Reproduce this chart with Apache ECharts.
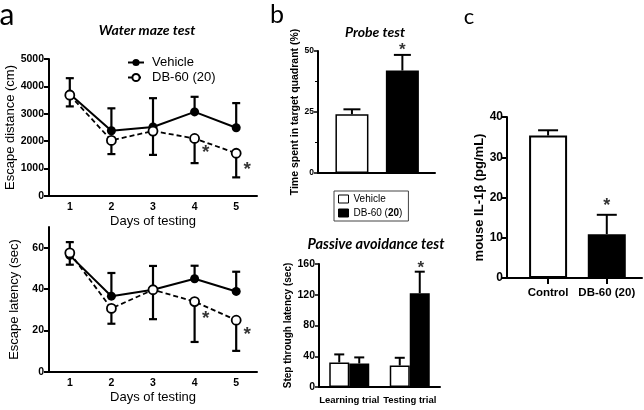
<!DOCTYPE html>
<html>
<head>
<meta charset="utf-8">
<script src="https://cdn.jsdelivr.net/npm/echarts@6/dist/echarts.min.js"></script>
<style>
  html, body { margin: 0; padding: 0; background: #fff; }
  #chart { width: 644px; height: 410px; }
</style>
</head>
<body>
<div id="chart"></div>
<script>
  // a: water maze, means + one sided error ends (vehicle up, DB-60 down)
  var days = ['1', '2', '3', '4', '5'];
  var distVehicle = [3720, 2380, 2520, 3070, 2490];
  var distVehicleErr = [4300, 3200, 3570, 3620, 3390];
  var distDB = [3680, 2030, 2370, 2100, 1560];
  var distDBErr = [3270, 1530, 1500, 1200, 680];
  var distStars = [[3, 1720], [4, 1100]];

  var latVehicle = [56.3, 36.6, 39.7, 45, 38.9];
  var latVehicleErr = [62.7, 47.8, 51.2, 51.3, 48.4];
  var latDB = [57.5, 30.7, 39.7, 34, 25];
  var latDBErr = [51.8, 23.3, 25.5, 14.5, 10.2];
  var latStars = [[3, 27.6], [4, 19.9]];

  // b: probe test (bar x positions on a plain value axis)
  var probeX = [0.673, 1.673];
  var probe = [24.1, 42];
  var probeErr = [26.1, 48.4];
  var probeStars = [[1.673, 52]];

  // b: passive avoidance
  var trials = ['Learning trial', 'Testing trial'];
  var pasVehicle = [32, 28];
  var pasVehicleErr = [42.4, 38];
  var pasDB = [30.6, 122];
  var pasDBErr = [38.5, 150];
  var pasStars = [[1, 159.3]];

  // c: IL-1
  var groupsC = ['Control', 'DB-60 (20)'];
  var il1X = [0.7, 1.7];
  var il1 = [35.4, 10.9];
  var il1Err = [36.7, 15.7];
  var il1Stars = [[1.7, 18.9]];

  var ARIAL = 'Arial, "Liberation Sans", sans-serif';
  var CAL = 'Lato, sans-serif';

  function errorBars(axis, data, capHalf, width, shift) {
    return {
      type: 'custom',
      xAxisIndex: axis, yAxisIndex: axis,
      z: 3, silent: true,
      data: data,
      renderItem: function (params, api) {
        var x = api.value(0);
        var p0 = api.coord([x, api.value(1)]);
        var p1 = api.coord([x, api.value(2)]);
        var cx = p0[0] + (shift || 0);
        var st = {stroke: '#000', lineWidth: width};
        return {
          type: 'group',
          children: [
            {type: 'line', shape: {x1: cx, y1: p0[1], x2: cx, y2: p1[1]}, style: st},
            {type: 'line', shape: {x1: cx - capHalf, y1: p1[1], x2: cx + capHalf, y2: p1[1]}, style: st}
          ]
        };
      }
    };
  }

  function stars(axis, data, size, offset) {
    return {
      type: 'scatter', xAxisIndex: axis, yAxisIndex: axis,
      data: data, symbolSize: 0, clip: false, silent: true, z: 5,
      label: {
        show: true, formatter: '*', position: 'inside', offset: offset,
        fontFamily: ARIAL, fontSize: size, fontWeight: 'bold', color: '#000'
      }
    };
  }

  function pairs(xs, a, b) {
    return xs.map(function (x, i) { return [x, a[i], b[i]]; });
  }
  var idx5 = [0, 1, 2, 3, 4];
  var idx2 = [0, 1];
  var plain = function (v) { return String(v); };

  var axisLine = {show: true, lineStyle: {color: '#000', width: 2}};
  var tickLabel = {color: '#000', fontFamily: ARIAL, fontWeight: 'bold'};

  function dayAxis(i) {
    return {
      gridIndex: i, type: 'category', data: days, boundaryGap: true,
      name: 'Days of testing', nameLocation: 'middle', nameGap: 19,
      nameTextStyle: {fontFamily: ARIAL, fontSize: 13, color: '#000'},
      axisLine: axisLine,
      axisTick: {alignWithLabel: true, length: 5, lineStyle: {color: '#000', width: 2}},
      axisLabel: Object.assign({fontSize: 10.5, margin: 6}, tickLabel)
    };
  }

  var chart = echarts.init(document.getElementById('chart'));
  chart.setOption({
    animation: false,
    backgroundColor: '#fff',
    textStyle: {fontFamily: ARIAL},
    grid: [
      {left: 49, top: 59, width: 208, height: 137},
      {left: 49, top: 227, width: 208, height: 145},
      {left: 318, top: 51, width: 117, height: 122},
      {left: 319, top: 264, width: 121, height: 123},
      {left: 507, top: 117, width: 135, height: 161}
    ],
    xAxis: [
      dayAxis(0),
      dayAxis(1),
      {gridIndex: 2, type: 'value', min: 0, max: 2.32, axisLine: axisLine,
       axisTick: {show: false}, axisLabel: {show: false}, splitLine: {show: false}},
      {gridIndex: 3, type: 'category', data: trials, boundaryGap: true, axisLine: axisLine,
       axisTick: {alignWithLabel: true, length: 4, lineStyle: {color: '#000', width: 1.5}},
       axisLabel: Object.assign({fontSize: 9.5, margin: 8, interval: 0}, tickLabel)},
      {gridIndex: 4, type: 'value', min: 0, max: 2.3, axisLine: axisLine, splitLine: {show: false},
       axisTick: {customValues: il1X, length: 6, lineStyle: {color: '#000', width: 2}},
       axisLabel: Object.assign({customValues: il1X, fontSize: 11.5, margin: 9,
         formatter: function (v) { return groupsC[il1X.indexOf(v)]; }}, tickLabel)}
    ],
    yAxis: [
      {gridIndex: 0, type: 'value', min: 0, max: 5000, interval: 1000,
       name: 'Escape distance (cm)', nameLocation: 'middle', nameGap: 28,
       nameTextStyle: {fontFamily: ARIAL, fontSize: 13, color: '#000'},
       axisLine: axisLine, splitLine: {show: false},
       axisTick: {show: true, length: 5, lineStyle: {color: '#000', width: 2}},
       axisLabel: Object.assign({fontSize: 10.5, margin: 5, formatter: plain}, tickLabel)},
      {gridIndex: 1, type: 'value', min: 0, max: 70,
       name: 'Escape latency (sec)', nameLocation: 'middle', nameGap: 28,
       nameTextStyle: {fontFamily: ARIAL, fontSize: 13, color: '#000'},
       axisLine: axisLine, splitLine: {show: false},
       axisTick: {show: true, customValues: [0, 20, 40, 60], length: 5, lineStyle: {color: '#000', width: 2}},
       axisLabel: Object.assign({customValues: [0, 20, 40, 60], fontSize: 10.5, margin: 5}, tickLabel)},
      {gridIndex: 2, type: 'value', min: 0, max: 50, interval: 25,
       name: 'Time spent in target quadrant (%)', nameLocation: 'middle', nameGap: 15,
       nameTextStyle: {fontFamily: ARIAL, fontSize: 10.5, fontWeight: 'bold', color: '#000'},
       axisLine: axisLine, splitLine: {show: false},
       axisTick: {show: true, length: 4, lineStyle: {color: '#000', width: 1.5}},
       minorTick: {show: true, splitNumber: 2, length: 3, lineStyle: {color: '#000', width: 1}},
       axisLabel: Object.assign({fontSize: 8.5, margin: 4}, tickLabel)},
      {gridIndex: 3, type: 'value', min: 0, max: 160, interval: 40,
       name: 'Step through latency (sec)', nameLocation: 'middle', nameGap: 25,
       nameTextStyle: {fontFamily: ARIAL, fontSize: 10, fontWeight: 'bold', color: '#000'},
       axisLine: axisLine, splitLine: {show: false},
       axisTick: {show: true, length: 4, lineStyle: {color: '#000', width: 1.5}},
       axisLabel: Object.assign({fontSize: 10.5, margin: 4}, tickLabel)},
      {gridIndex: 4, type: 'value', min: 0, max: 40, interval: 10,
       name: 'mouse IL-1β (pg/mL)', nameLocation: 'middle', nameGap: 21,
       nameTextStyle: {fontFamily: ARIAL, fontSize: 13, fontWeight: 'bold', color: '#000'},
       axisLine: axisLine, splitLine: {show: false},
       axisTick: {show: true, length: 6, lineStyle: {color: '#000', width: 2}},
       axisLabel: Object.assign({fontSize: 12, margin: 4}, tickLabel)}
    ],
    legend: [
      {
        left: 122, top: 51, orient: 'vertical', itemGap: 2,
        itemWidth: 16, itemHeight: 9,
        data: ['Vehicle', 'DB-60 (20)'],
        textStyle: {fontFamily: ARIAL, fontSize: 13, lineHeight: 13, color: '#000', padding: [0, 0, 0, 3]}
      },
      {
        left: 334, top: 191, orient: 'vertical', itemGap: 3,
        itemWidth: 10, itemHeight: 8, padding: [2.5, 6, 2.5, 4],
        borderColor: '#444', borderWidth: 1,
        data: [
          {name: 'Vehicle', icon: 'rect', itemStyle: {color: '#fff', borderColor: '#000', borderWidth: 1}},
          {name: 'DB-60 (20)', icon: 'rect', itemStyle: {color: '#000', borderColor: '#000', borderWidth: 1}}
        ],
        formatter: function (n) { return n === 'DB-60 (20)' ? 'DB-60 ({b|20})' : n; },
        textStyle: {fontFamily: ARIAL, fontSize: 10, lineHeight: 11, color: '#000',
          rich: {b: {fontFamily: ARIAL, fontSize: 10, fontWeight: 'bold', color: '#000'}}}
      }
    ],
    graphic: [
      {type: 'text', x: 7, y: 15, style: {text: 'a', fontFamily: CAL, fontSize: 30, fill: '#000', align: 'center', verticalAlign: 'middle'}},
      {type: 'text', x: 277, y: 15, style: {text: 'b', fontFamily: CAL, fontSize: 25, fill: '#000', align: 'center', verticalAlign: 'middle'}},
      {type: 'text', x: 469, y: 17, style: {text: 'c', fontFamily: CAL, fontSize: 22, fill: '#000', align: 'center', verticalAlign: 'middle'}},
      {type: 'text', x: 147, y: 30, style: {text: 'Water maze test', fontFamily: CAL, fontSize: 14, fontWeight: 'bold', fontStyle: 'italic', fill: '#000', align: 'center', verticalAlign: 'middle'}},
      {type: 'text', x: 375, y: 32, style: {text: 'Probe test', fontFamily: CAL, fontSize: 14, fontWeight: 'bold', fontStyle: 'italic', fill: '#000', align: 'center', verticalAlign: 'middle'}},
      {type: 'text', x: 376, y: 244, style: {text: 'Passive avoidance test', fontFamily: CAL, fontSize: 14.5, fontWeight: 'bold', fontStyle: 'italic', fill: '#000', align: 'center', verticalAlign: 'middle'}}
    ],
    series: [
      // a top
      {name: 'Vehicle', type: 'line', xAxisIndex: 0, yAxisIndex: 0, data: distVehicle, z: 4,
       symbol: 'circle', symbolSize: 9, itemStyle: {color: '#000'},
       lineStyle: {color: '#000', width: 2}},
      {name: 'DB-60 (20)', type: 'line', xAxisIndex: 0, yAxisIndex: 0, data: distDB, z: 4,
       symbol: 'circle', symbolSize: 9, itemStyle: {color: '#fff', borderColor: '#000', borderWidth: 1.8},
       lineStyle: {color: '#000', width: 1.8, type: [5, 3]}},
      errorBars(0, pairs(idx5, distVehicle, distVehicleErr), 4, 2.2),
      errorBars(0, pairs(idx5, distDB, distDBErr), 4, 2.2),
      stars(0, distStars, 19, [11, 4]),
      // a bottom
      {name: 'Vehicle', type: 'line', xAxisIndex: 1, yAxisIndex: 1, data: latVehicle, z: 4,
       symbol: 'circle', symbolSize: 9, itemStyle: {color: '#000'},
       lineStyle: {color: '#000', width: 2}},
      {name: 'DB-60 (20)', type: 'line', xAxisIndex: 1, yAxisIndex: 1, data: latDB, z: 4,
       symbol: 'circle', symbolSize: 9, itemStyle: {color: '#fff', borderColor: '#000', borderWidth: 1.8},
       lineStyle: {color: '#000', width: 1.8, type: [5, 3]}},
      errorBars(1, pairs(idx5, latVehicle, latVehicleErr), 4, 2.2),
      errorBars(1, pairs(idx5, latDB, latDBErr), 4, 2.2),
      stars(1, latStars, 19, [11, 4]),
      // b probe
      {type: 'bar', xAxisIndex: 2, yAxisIndex: 2, barWidth: 33,
       data: [[probeX[0], probe[0]]],
       itemStyle: {color: '#fff', borderColor: '#000', borderWidth: 1.5}},
      {type: 'bar', xAxisIndex: 2, yAxisIndex: 2, barWidth: 33, barGap: '-100%',
       data: [[probeX[1], probe[1]]],
       itemStyle: {color: '#000', borderColor: '#000', borderWidth: 1.5}},
      errorBars(2, pairs(probeX, probe, probeErr), 8.5, 2),
      stars(2, probeStars, 17, [0, 4]),
      // b passive avoidance
      {type: 'bar', xAxisIndex: 3, yAxisIndex: 3, barWidth: 20, barGap: '0%', data: pasVehicle,
       itemStyle: {color: '#fff', borderColor: '#000', borderWidth: 1.5}},
      {type: 'bar', xAxisIndex: 3, yAxisIndex: 3, barWidth: 20, barGap: '0%', data: pasDB,
       itemStyle: {color: '#000', borderColor: '#000', borderWidth: 1.5}},
      errorBars(3, pairs(idx2, pasVehicle, pasVehicleErr), 5, 2, -10),
      errorBars(3, pairs(idx2, pasDB, pasDBErr), 5, 2, 10),
      stars(3, pasStars, 17, [11, 4]),
      // c
      {type: 'bar', xAxisIndex: 4, yAxisIndex: 4, barWidth: 38,
       data: [[il1X[0], il1[0]]],
       itemStyle: {color: '#fff', borderColor: '#000', borderWidth: 2}},
      {type: 'bar', xAxisIndex: 4, yAxisIndex: 4, barWidth: 38, barGap: '-100%',
       data: [[il1X[1], il1[1]]],
       itemStyle: {color: '#000', borderColor: '#000', borderWidth: 2}},
      errorBars(4, pairs(il1X, il1, il1Err), 10, 2),
      stars(4, il1Stars, 18, [0, 4])
    ]
  });
</script>
</body>
</html>
